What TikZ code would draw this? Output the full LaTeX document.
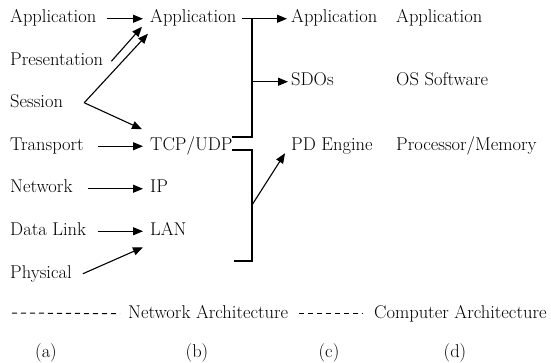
\documentclass[tikz,border=0pt]{standalone}
\usetikzlibrary{arrows.meta}
\begin{document}
\begin{tikzpicture}[x=1pt,y=-1pt,
  lbl/.style={anchor=base west,inner sep=0pt,text height=12pt,text depth=3.5pt,font=\fontsize{18.5}{22}\selectfont},
  caplbl/.style={anchor=base,inner sep=0pt,font=\fontsize{18.5}{22}\selectfont},
  arr/.style={line width=1.1pt,-{Triangle[length=10pt,width=8pt]}},
  ln/.style={line width=1.1pt},
  dsh/.style={line width=1pt,dash pattern=on 5pt off 4pt}]
\useasboundingbox (0,0) rectangle (551,363);
% column (a)
\node[lbl] (a1) at (10,23) {Application};
\node[lbl] (a2) at (10,65.5) {Presentation};
\node[lbl] (a3) at (10,108) {Session};
\node[lbl] (a4) at (10,150.5) {Transport};
\node[lbl] (a5) at (10,193) {Network};
\node[lbl] (a6) at (10,235.5) {Data Link};
\node[lbl] (a7) at (10,278) {Physical};
% column (b)
\node[lbl] (b1) at (150,23) {Application};
\node[lbl] (b2) at (150,150.5) {TCP/UDP};
\node[lbl] (b3) at (150,193) {IP};
\node[lbl] (b4) at (150,235.5) {LAN};
% column (c)
\node[lbl] (c1) at (291,23) {Application};
\node[lbl] (c2) at (291,86) {SDOs};
\node[lbl] (c3) at (291,150.5) {PD Engine};
% column (d)
\node[lbl] (d1) at (396,23) {Application};
\node[lbl] (d2) at (396,86) {OS Software};
\node[lbl] (d3) at (396,150.5) {Processor/Memory};
% arrows (a) -> (b)
\draw[arr] ([xshift=10pt]a1.east) -- ([xshift=-7pt]b1.west);
\draw[arr] ([xshift=8pt]a2.east) -- ([shift={(-8pt,-8pt)}]b1.west);
\coordinate (s) at ([xshift=21pt,yshift=1pt]a3.east);
\draw[arr] (s) -- ([shift={(-2pt,-15pt)}]b1.west);
\draw[arr] (s) -- ([shift={(-8pt,17pt)}]b2.west);
\draw[arr] ([xshift=14pt]a4.east) -- ([xshift=-7pt]b2.west);
\draw[arr] ([xshift=15pt]a5.east) -- ([xshift=-7pt]b3.west);
\draw[arr] ([xshift=12pt]a6.east) -- ([xshift=-7pt]b4.west);
\draw[arr] ([xshift=11pt]a7.east) -- ([shift={(-7pt,-16pt)}]b4.west);
% brackets (b) -> (c)
\coordinate (t0) at ([xshift=5pt]b1.east);
\coordinate (tv) at (252,18.75);
\coordinate (tb) at (252,137);
\coordinate (tt) at (232,137);
\draw[ln] (tt) -- (tb) -- (tv) -- (t0);
\draw[arr] (tv) -- ([xshift=-4pt]c1.west);
\draw[arr] (c2.west -| tv) -- ([xshift=-3pt]c2.west);
\coordinate (u0) at (232,150);
\coordinate (u1) at (252,150);
\coordinate (u2) at (252,261);
\coordinate (u3) at (234,261);
\draw[ln] (u0) -- (u1) -- (u2) -- (u3);
\coordinate (um) at (252,205);
\draw[arr] (um) -- ([shift={(-6pt,-7pt)}]c3.west);
% bottom legend
\coordinate (l0) at (12,313);
\node[lbl] (na) at (128,318) {Network Architecture};
\draw[dsh] (l0) -- ([xshift=-8pt]na.west);
\node[lbl] (ca) at (374,318) {Computer Architecture};
\draw[dsh] ([xshift=11pt]na.east) -- ([xshift=-11pt]ca.west);
\node[caplbl] (pa) at (46,357) {(a)};
\node[caplbl] (pb) at (197,357) {(b)};
\node[caplbl] (pc) at (329,357) {(c)};
\node[caplbl] (pd) at (455,357) {(d)};
\end{tikzpicture}
\end{document}
